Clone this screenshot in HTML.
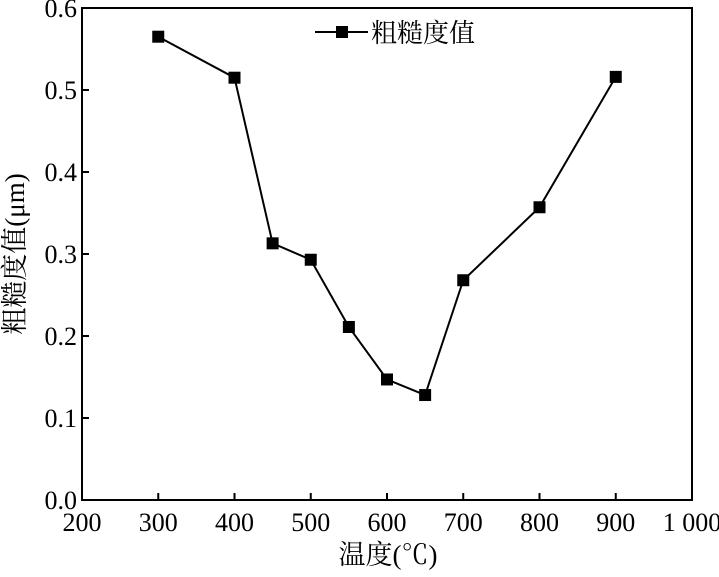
<!DOCTYPE html>
<html><head><meta charset="utf-8"><style>
body{margin:0;background:#fff;}
svg text{font-family:"Liberation Serif","Noto Serif CJK SC",serif;fill:#000;}
</style></head><body>
<svg width="719" height="572">
<rect x="82" y="8" width="610" height="492" fill="none" stroke="#000" stroke-width="2"/>
<g id="ticks"></g>
<g id="series"></g>
<g>
<line x1="315" y1="32" x2="368" y2="32" stroke="#000" stroke-width="2"/>
<rect x="336" y="26" width="12" height="12" fill="#000"/>
<text x="371" y="42" font-size="26">粗糙度值</text>
</g>
<text x="388" y="564" font-size="27" text-anchor="middle">温度(℃)</text>
<text transform="translate(24,254) rotate(-90)" font-size="27" text-anchor="middle">粗糙度值(μm)</text>
</svg>
<script>
const temps=[300,400,450,500,550,600,650,700,800,900];
const roughness=[0.565,0.515,0.313,0.293,0.211,0.147,0.128,0.268,0.357,0.516];
const xTicks=[200,300,400,500,600,700,800,900,1000];
const xTickLabels=["200","300","400","500","600","700","800","900","1 000"];
const yTicks=[0,0.1,0.2,0.3,0.4,0.5,0.6];
const yTickLabels=["0.0","0.1","0.2","0.3","0.4","0.5","0.6"];
const NS="http://www.w3.org/2000/svg";
function xs(v){return 82+(v-200)*610/800;}
function ys(v){return 500-v*492/0.6;}
function mk(tag,attrs,parent){const e=document.createElementNS(NS,tag);for(const k in attrs)e.setAttribute(k,attrs[k]);parent.appendChild(e);return e;}
const tg=document.getElementById('ticks');
xTicks.forEach((t,i)=>{
 const l=mk('line',{x1:xs(t),x2:xs(t),y1:500,y2:493,stroke:'#000','stroke-width':2},tg);
 
 
 const tx=mk('text',{x:xs(t),y:531,'font-size':26,'text-anchor':'middle'},tg);
 tx.textContent=xTickLabels[i];
 
 
});
yTicks.forEach((t,i)=>{
 const l=mk('line',{x1:82,x2:89,y1:ys(t),y2:ys(t),stroke:'#000','stroke-width':2},tg);
 
 
 const tx=mk('text',{x:77,y:ys(t)+9,'font-size':26,'text-anchor':'end'},tg);
 tx.textContent=yTickLabels[i];
 
 
});
const sg=document.getElementById('series');
const pl=mk('polyline',{points:temps.map((t,i)=>xs(t)+','+ys(roughness[i])).join(' '),fill:'none',stroke:'#000','stroke-width':2},sg);


temps.forEach((t,i)=>{
 const r=mk('rect',{x:xs(t)-6,y:ys(roughness[i])-6,width:12,height:12,fill:'#000'},sg);
 
 
});
</script>
</body></html>
